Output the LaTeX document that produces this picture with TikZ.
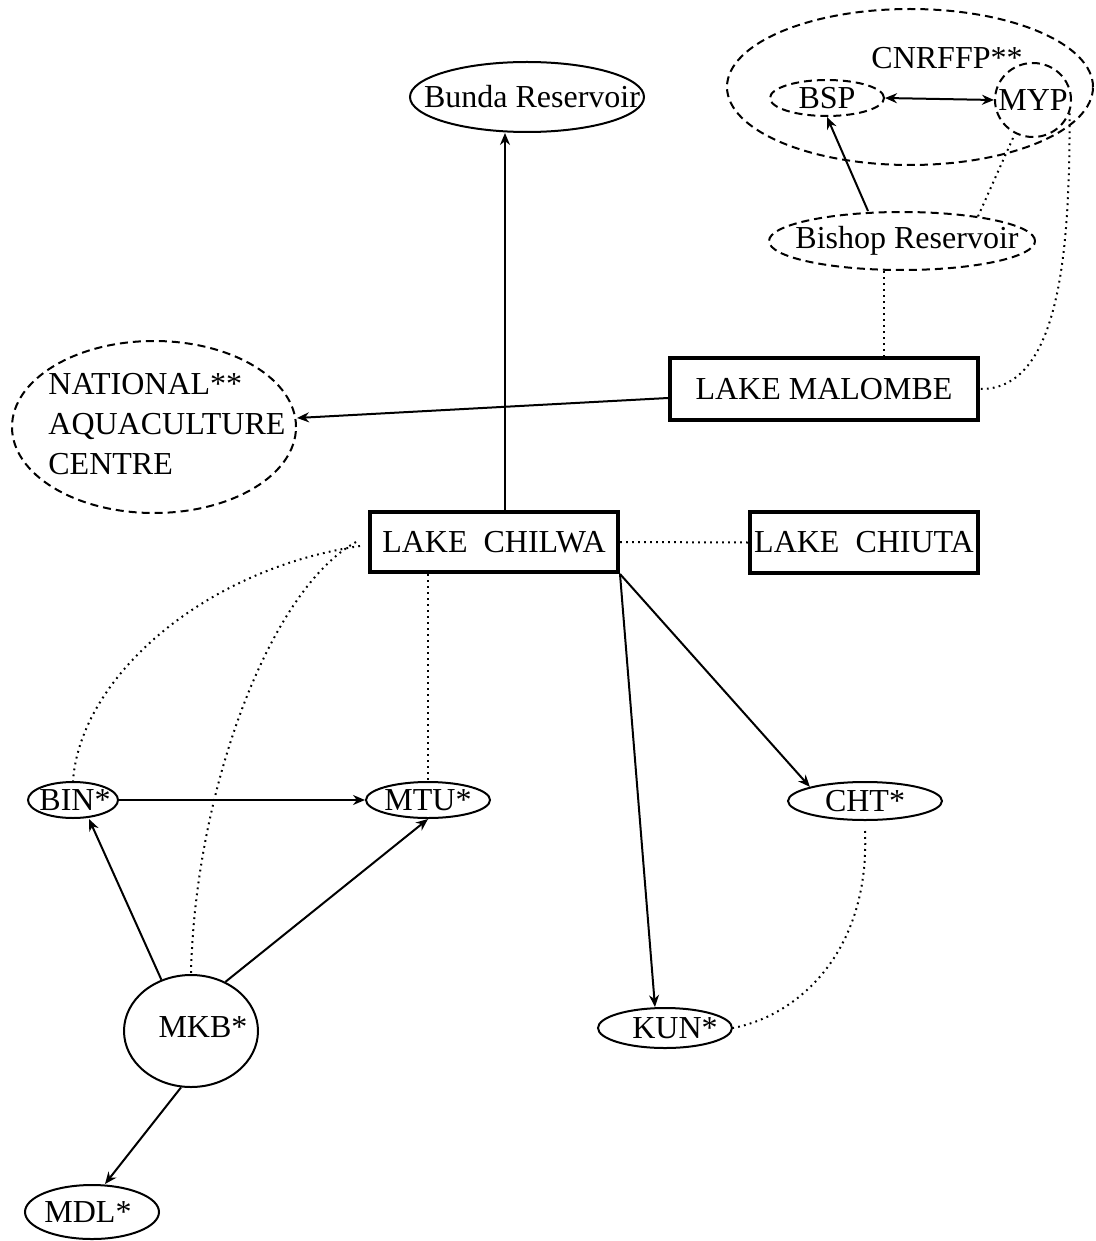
\documentclass[tikz,border=0pt]{standalone}
\usepackage{fontspec}
\setmainfont{Liberation Serif}
\usetikzlibrary{shapes.geometric,arrows.meta,calc}
\tikzset{
  lbl/.style={font=\fontsize{16}{18}\selectfont, inner sep=0pt},
  ell/.style={ellipse, draw, line width=1pt, inner sep=0pt, label distance=0pt},
  txt/.style={label={[lbl, xshift=#1]center:}},
  dsh/.style={dash pattern=on 4pt off 2.5pt},
  dell/.style={ell, dsh},
  lakebox/.style={lbl, rectangle, draw, line width=2pt},
  arr/.style={line width=1pt, -{Stealth[length=6pt,width=5pt]}},
  darr/.style={line width=1pt, {Stealth[length=6pt,width=5pt]}-{Stealth[length=6pt,width=5pt]}},
  dot/.style={line width=1pt, dash pattern=on 0.9pt off 2.1pt}
}
\begin{document}
\begin{tikzpicture}[x=0.5pt,y=-0.5pt]
\useasboundingbox (0,0) rectangle (1096,1241);
% nodes
\node[ell, minimum width=117pt, minimum height=35pt, label={[lbl,xshift=2.5pt]center:Bunda Reservoir}] (bunda) at (527,97) {};
\node[dell, minimum width=183pt, minimum height=78pt] (cnrffp) at (910,87) {};
\node[lbl] (cnrlabel) at (947,58) {CNRFFP**};
\node[dell, minimum width=57pt, minimum height=18pt, label={[lbl]center:BSP}] (bsp) at (827,98) {};
\node[dell, minimum width=38pt, minimum height=37pt, label={[lbl]center:MYP}] (myp) at (1033,100) {};
\node[dell, minimum width=133pt, minimum height=29pt, label={[lbl,xshift=2.5pt]center:Bishop Reservoir}] (bishop) at (902,241) {};
\node[lakebox, minimum width=154pt, minimum height=31pt] (malombe) at (824,389) {LAKE MALOMBE};
\node[lakebox, minimum width=124pt, minimum height=30pt] (chilwa) at (494,542) {LAKE\ \ CHILWA};
\node[lakebox, minimum width=114pt, minimum height=30.5pt] (chiuta) at (864,542.5) {LAKE\ \ CHIUTA};
\node[dell, minimum width=142pt, minimum height=86pt] (nac) at (154,427) {};
\node[lbl, align=left, anchor=west, font=\fontsize{16}{20}\selectfont] (nactext) at (48,424) {NATIONAL**\\AQUACULTURE\\CENTRE};
\node[ell, minimum width=45pt, minimum height=18pt, label={[lbl,xshift=1pt]center:BIN*}] (bin) at (73,800) {};
\node[ell, minimum width=62pt, minimum height=18pt, label={[lbl]center:MTU*}] (mtu) at (428,800) {};
\node[ell, minimum width=77pt, minimum height=19pt, label={[lbl]center:CHT*}] (cht) at (865,801) {};
\node[ell, minimum width=67pt, minimum height=20pt, label={[lbl,xshift=5pt]center:KUN*}] (kun) at (665,1028) {};
\node[ell, minimum width=67pt, minimum height=56pt, label={[lbl,xshift=6pt,yshift=2pt]center:MKB*}] (mkb) at (191,1031) {};
\node[ell, minimum width=67pt, minimum height=27pt, label={[lbl,xshift=-2pt]center:MDL*}] (mdl) at (92,1212) {};
% solid arrows
\draw[arr] ([xshift=5.5pt]chilwa.north) -- ([xshift=-11pt]bunda.south);
\draw[arr] ([yshift=-4.5pt]malombe.west) -- ([yshift=4.5pt]nac.east);
\draw[darr] (bsp.east) -- (myp.west);
\draw[arr] ([xshift=-17pt]bishop.north) -- (bsp.south);
\draw[arr] (chilwa.south east) -- (cht.north west);
\draw[arr] (chilwa.south east) -- ([xshift=-5pt]kun.north);
\draw[arr] (bin.east) -- (mtu.west);
\draw[arr] (mkb.120) -- ([xshift=8pt]bin.south);
\draw[arr] (mkb.55) -- (mtu.south);
\draw[arr] (mkb.-100) -- ([xshift=6.5pt]mdl.north);
% dotted connectors
\draw[dot] (chilwa.east) -- (chiuta.west);
\draw[dot] (chilwa.south -| mtu.north) -- (mtu.north);
\draw[dot] ([xshift=-9pt]bishop.south) -- ([xshift=-9pt]bishop.south |- malombe.north);
\draw[dot] ([xshift=-10pt]myp.south) -- (bishop.18);
\draw[dot] ([xshift=-4pt,yshift=-2pt]chilwa.west) .. controls (200,570) and (80,680) .. (bin.north);
\draw[dot] ([xshift=-6pt]chilwa.west) .. controls (270,590) and (195,790) .. (mkb.north);
\draw[dot] (myp.-20) .. controls (1070,250) and (1060,390) .. (malombe.east);
\draw[dot] ([yshift=-5pt]cht.south) .. controls (870,950) and (800,1015) .. (kun.east);
\end{tikzpicture}
\end{document}
